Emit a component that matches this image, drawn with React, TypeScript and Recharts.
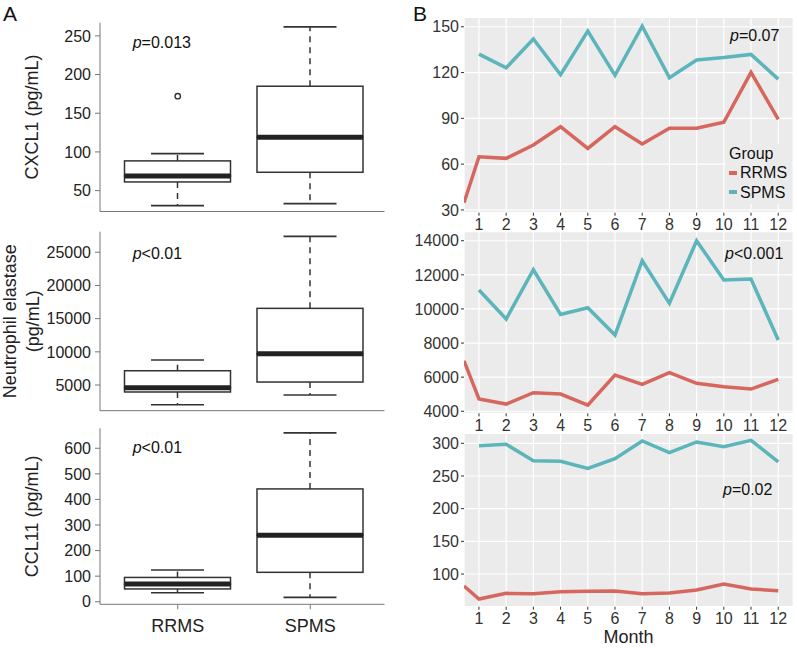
import {
  Bar,
  CartesianGrid,
  ComposedChart,
  Legend,
  Line,
  LineChart,
  Scatter,
  XAxis,
  YAxis,
} from "recharts";

const FONT = '"Liberation Sans", Arial, Helvetica, sans-serif';
const INK = "#333";
const AXIS = "#777";
const RRMS_COLOR = "#d6675f";
const SPMS_COLOR = "#5cb5ba";

const groups = ["RRMS", "SPMS"];

// box stats per group: min, q1, median, q3, max
const cxcl1Stats = [
  [30.6, 61.2, 69, 88.4, 97.8],
  [33.2, 73.7, 119, 184.9, 261.6],
];
const cxcl1Outliers = [172, null];
const elastaseStats = [
  [2030, 3950, 4600, 7150, 8770],
  [3490, 5450, 9710, 16550, 27400],
];
const ccl11Stats = [
  [35, 50, 69, 95, 124],
  [17, 115, 260, 441, 660],
];

const cxcl1BoxTicks = [50, 100, 150, 200, 250];
const elastaseBoxTicks = [5000, 10000, 15000, 20000, 25000];
const ccl11BoxTicks = [0, 100, 200, 300, 400, 500, 600];

// monthly means; first x is the left panel edge where the RRMS trace comes in
const months = [1, 2, 3, 4, 5, 6, 7, 8, 9, 10, 11, 12];
const monthX = [0.45, ...months];

const rrmsCxcl1 = [34.7, 64.8, 63.8, 72.5, 84.5, 70.3, 84.5, 73.2, 83.6, 83.6, 87.4, 120.1, 89.3];
const spmsCxcl1 = [null, 132.1, 123.1, 142.0, 118.6, 147.2, 118.2, 150.4, 116.6, 128.2, 129.8, 131.9, 115.7];
const rrmsElastase = [6960, 4720, 4420, 5090, 5010, 4360, 6120, 5580, 6260, 5640, 5440, 5300, 5870];
const spmsElastase = [null, 11110, 9410, 12300, 9680, 10070, 8470, 12830, 10330, 14000, 11700, 11750, 8180];
const rrmsCcl11 = [81.7, 61.8, 70.4, 69.9, 72.9, 73.5, 74.0, 69.9, 70.9, 75.5, 84.7, 77.1, 74.5];
const spmsCcl11 = [null, 296.3, 298.5, 273.4, 272.4, 261.7, 276.5, 303.5, 285.6, 302.0, 294.8, 304.6, 271.5];

const cxcl1Ticks = [30, 60, 90, 120, 150];
const elastaseTicks = [4000, 6000, 8000, 10000, 12000, 14000];
const ccl11Ticks = [100, 150, 200, 250, 300];

function boxRows(stats: number[][], outliers?: (number | null)[]) {
  return groups.map((name, i) => {
    const [mn, q1, md, q3, mx] = stats[i];
    return {
      name,
      base: mn,
      lowWhisker: q1 - mn,
      lowBox: md - q1,
      highBox: q3 - md,
      highWhisker: mx - q3,
      out: outliers ? outliers[i] : null,
    };
  });
}

function LowWhisker(p: any) {
  const cx = p.x + p.width / 2;
  const yb = p.y + p.height;
  return (
    <g>
      <line x1={cx} x2={cx} y1={p.y} y2={yb} stroke={INK} strokeWidth={1.5} strokeDasharray="6 5" />
      <line x1={cx - p.width / 4} x2={cx + p.width / 4} y1={yb} y2={yb} stroke={INK} strokeWidth={1.6} />
    </g>
  );
}

function HighWhisker(p: any) {
  const cx = p.x + p.width / 2;
  const yb = p.y + p.height;
  return (
    <g>
      <line x1={cx} x2={cx} y1={yb} y2={p.y} stroke={INK} strokeWidth={1.5} strokeDasharray="6 5" />
      <line x1={cx - p.width / 4} x2={cx + p.width / 4} y1={p.y} y2={p.y} stroke={INK} strokeWidth={1.6} />
    </g>
  );
}

function LowBox(p: any) {
  return <rect x={p.x} y={p.y} width={p.width} height={p.height} fill="#fff" stroke={INK} strokeWidth={1.5} />;
}

function HighBox(p: any) {
  const yb = p.y + p.height;
  return (
    <g>
      <rect x={p.x} y={p.y} width={p.width} height={p.height} fill="#fff" stroke={INK} strokeWidth={1.5} />
      <line x1={p.x} x2={p.x + p.width} y1={yb} y2={yb} stroke="#222" strokeWidth={5} />
    </g>
  );
}

function OutlierDot(p: any) {
  if (p.payload?.out == null) return <g />;
  return <circle cx={p.cx} cy={p.cy} r={2.7} fill="none" stroke={INK} strokeWidth={1.4} />;
}

function YTitle({ viewBox, lines, xs }: any) {
  const cy = viewBox.y + viewBox.height / 2;
  return (
    <g>
      {lines.map((t: string, i: number) => (
        <text
          key={t}
          transform={`translate(${xs[i]},${cy}) rotate(-90)`}
          textAnchor="middle"
          dominantBaseline="central"
          fontSize={18}
          fill="#222"
        >
          {t}
        </text>
      ))}
    </g>
  );
}

type BoxPanelProps = {
  top: number;
  height: number;
  plotTop: number;
  plotBottom: number;
  stats: number[][];
  outliers?: (number | null)[];
  domain: [number, number];
  ticks: number[];
  title: string[];
  titleX: number[];
  showLabels: boolean;
};

function BoxPanel(props: BoxPanelProps) {
  const data = boxRows(props.stats, props.outliers);
  const xAxisHeight = props.top + props.height - props.plotBottom;
  return (
    <div style={{ position: "absolute", left: 0, top: props.top }}>
      <ComposedChart
        width={400}
        height={props.height}
        data={data}
        barSize={106}
        margin={{ top: props.plotTop - props.top, right: 15.5, bottom: 0, left: 0 }}
      >
        <XAxis
          dataKey="name"
          height={xAxisHeight}
          padding={{ left: 11.5, right: 8 }}
          stroke={AXIS}
          tickSize={5}
          tickMargin={10}
          tick={props.showLabels ? { fill: "#222", fontSize: 18 } : false}
        />
        <YAxis
          width={100}
          type="number"
          domain={props.domain}
          ticks={props.ticks}
          interval={0}
          allowDataOverflow
          stroke={AXIS}
          tickSize={5}
          tickMargin={4}
          tick={{ fill: "#222", fontSize: 16 }}
          label={<YTitle lines={props.title} xs={props.titleX} />}
        />
        <Bar dataKey="base" stackId="box" fill="transparent" isAnimationActive={false} />
        <Bar dataKey="lowWhisker" stackId="box" shape={LowWhisker} isAnimationActive={false} />
        <Bar dataKey="lowBox" stackId="box" shape={LowBox} isAnimationActive={false} />
        <Bar dataKey="highBox" stackId="box" shape={HighBox} isAnimationActive={false} />
        <Bar dataKey="highWhisker" stackId="box" shape={HighWhisker} isAnimationActive={false} />
        {props.outliers && <Scatter dataKey="out" shape={OutlierDot} isAnimationActive={false} />}
      </ComposedChart>
    </div>
  );
}

function GroupLegend() {
  const items = [
    { name: "RRMS", color: RRMS_COLOR },
    { name: "SPMS", color: SPMS_COLOR },
  ];
  return (
    <div
      style={{
        background: "#EBEBEB",
        padding: "0 4px 2px 3px",
        fontSize: 16,
        lineHeight: "19.3px",
        color: "#111",
        fontFamily: FONT,
      }}
    >
      <div>Group</div>
      {items.map((it) => (
        <div key={it.name} style={{ display: "flex", alignItems: "center" }}>
          <span style={{ width: 8, height: 4, background: it.color, marginRight: 3 }} />
          {it.name}
        </div>
      ))}
    </div>
  );
}

type TrendPanelProps = {
  top: number;
  height: number;
  plotTop: number;
  plotBottom: number;
  rrms: (number | null)[];
  spms: (number | null)[];
  domain: [number, number];
  ticks: number[];
  showTitle?: boolean;
  showLegend?: boolean;
};

function TrendPanel(props: TrendPanelProps) {
  const data = monthX.map((m, i) => ({ month: m, RRMS: props.rrms[i], SPMS: props.spms[i] }));
  const xAxisHeight = props.top + props.height - props.plotBottom;
  return (
    <div style={{ position: "absolute", left: 400, top: props.top }}>
      <LineChart
        width={397}
        height={props.height}
        data={data}
        margin={{ top: props.plotTop - props.top, right: 3.8, bottom: 0, left: 0 }}
      >
        <CartesianGrid fill="#EBEBEB" stroke="#fff" strokeWidth={1.2} />
        <XAxis
          type="number"
          dataKey="month"
          domain={[0.45, 12.55]}
          ticks={months}
          interval={0}
          allowDataOverflow
          axisLine={false}
          stroke={INK}
          tickSize={3}
          tickMargin={3}
          height={xAxisHeight}
          tick={{ fill: INK, fontSize: 16 }}
          label={
            props.showTitle
              ? { value: "Month", position: "insideBottom", offset: 5, fill: "#222", fontSize: 18 }
              : undefined
          }
        />
        <YAxis
          width={64}
          type="number"
          domain={props.domain}
          ticks={props.ticks}
          interval={0}
          allowDataOverflow
          axisLine={false}
          stroke={INK}
          tickSize={3}
          tickMargin={2}
          tick={{ fill: INK, fontSize: 16 }}
        />
        {props.showLegend && (
          <Legend
            layout="horizontal"
            align="center"
            verticalAlign="middle"
            content={<GroupLegend />}
            wrapperStyle={{ left: 326, top: 144, width: 66 }}
          />
        )}
        <Line
          dataKey="RRMS"
          type="linear"
          stroke={RRMS_COLOR}
          strokeWidth={3.5}
          dot={false}
          isAnimationActive={false}
        />
        <Line
          dataKey="SPMS"
          type="linear"
          stroke={SPMS_COLOR}
          strokeWidth={3.5}
          dot={false}
          isAnimationActive={false}
        />
      </LineChart>
    </div>
  );
}

const notes = [
  { x: 132.7, y: 47.7, rest: "=0.013" },
  { x: 132.7, y: 259, rest: "<0.01" },
  { x: 132.7, y: 453, rest: "<0.01" },
  { x: 730, y: 40.7, rest: "=0.07" },
  { x: 725, y: 258.7, rest: "<0.001" },
  { x: 723, y: 494.7, rest: "=0.02" },
];

export default function App() {
  return (
    <div
      style={{
        position: "absolute",
        left: 0,
        top: 0,
        width: 797,
        height: 648,
        background: "#fff",
        fontFamily: FONT,
        overflow: "hidden",
      }}
    >
      <BoxPanel
        top={0}
        height={222}
        plotTop={22.7}
        plotBottom={211.5}
        stats={cxcl1Stats}
        outliers={cxcl1Outliers}
        domain={[23, 267]}
        ticks={cxcl1BoxTicks}
        title={["CXCL1 (pg/mL)"]}
        titleX={[32]}
        showLabels={false}
      />
      <BoxPanel
        top={222}
        height={197}
        plotTop={231.7}
        plotBottom={410.7}
        stats={elastaseStats}
        domain={[1130, 28100]}
        ticks={elastaseBoxTicks}
        title={["Neutrophil elastase", "(pg/mL)"]}
        titleX={[10, 33]}
        showLabels={false}
      />
      <BoxPanel
        top={420}
        height={228}
        plotTop={428.3}
        plotBottom={604.3}
        stats={ccl11Stats}
        domain={[-10, 678]}
        ticks={ccl11BoxTicks}
        title={["CCL11 (pg/mL)"]}
        titleX={[32]}
        showLabels
      />
      <TrendPanel
        top={0}
        height={236}
        plotTop={17.3}
        plotBottom={212.7}
        rrms={rrmsCxcl1}
        spms={spmsCxcl1}
        domain={[28.2, 156.2]}
        ticks={cxcl1Ticks}
        showLegend
      />
      <TrendPanel
        top={226}
        height={212}
        plotTop={231.7}
        plotBottom={413.3}
        rrms={rrmsElastase}
        spms={spmsElastase}
        domain={[3880, 14530]}
        ticks={elastaseTicks}
      />
      <TrendPanel
        top={428}
        height={220}
        plotTop={433.3}
        plotBottom={606.7}
        rrms={rrmsCcl11}
        spms={spmsCcl11}
        domain={[50, 315.3]}
        ticks={ccl11Ticks}
        showTitle
      />
      <svg
        width={797}
        height={648}
        style={{ position: "absolute", left: 0, top: 0, pointerEvents: "none" }}
      >
        <text x={3} y={20.5} fontSize={21} fill="#111">
          A
        </text>
        <text x={413} y={20.5} fontSize={21} fill="#111">
          B
        </text>
        {notes.map((n) => (
          <text key={`${n.x}-${n.y}`} x={n.x} y={n.y} fontSize={16} fill="#111">
            <tspan fontStyle="italic">p</tspan>
            {n.rest}
          </text>
        ))}
      </svg>
    </div>
  );
}
